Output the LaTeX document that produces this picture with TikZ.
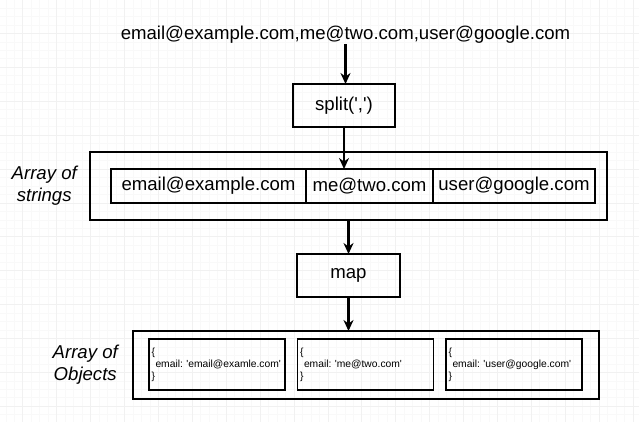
\documentclass[tikz,border=0pt]{standalone}
\usepackage{fontspec}
\setmainfont{Liberation Sans}
\usetikzlibrary{positioning, arrows.meta}

\newcommand{\sq}{\textquotesingle}
\frenchspacing

\tikzset{
  big/.style={font=\fontsize{18.6}{22}\selectfont},
  small/.style={font=\fontsize{10.3}{12}\selectfont},
  box/.style={draw, line width=1.5pt, big, inner sep=0pt, outer sep=0pt, minimum height=43pt},
  holder/.style={draw, line width=1.6pt, minimum height=68pt, outer sep=0pt},
  cell/.style={draw, line width=1.2pt, big, minimum height=34pt, inner sep=0pt, outer sep=0pt},
  objbox/.style={draw, line width=1.5pt, small, minimum width=136pt, minimum height=51pt,
    text width=131pt, inner sep=2.5pt, align=left, outer sep=0pt},
  sidenote/.style={font=\fontsize{18.6}{22}\selectfont\itshape, align=center, inner sep=0pt},
  flow/.style={-{Stealth[length=11pt,width=10pt]}, line width=2.4pt},
  gridminor/.style={draw=black!2.5, line width=0.5pt},
  gridmajor/.style={draw=black!5.5, line width=0.6pt}
}

\begin{document}
\begin{tikzpicture}[x=1pt, y=-1pt]
\useasboundingbox[fill=white] (0,0) rectangle (639,422);
% background grid
\foreach \i in {-2,...,73}
  \draw[gridminor] ({22.7+8.475*\i},0) -- ++(0,422);
\foreach \j in {-3,...,46}
  \draw[gridminor] (0,{33.3+8.475*\j}) -- ++(639,0);
\foreach \i in {0,...,18}
  \draw[gridmajor] ({22.7+33.9*\i},0) -- ++(0,422);
\foreach \j in {0,...,11}
  \draw[gridmajor] (0,{33.3+33.9*\j}) -- ++(639,0);

% input string and split
\node[big, inner sep=0pt] (src) at (345.5,35) {email@example.com,me@two.com,user@google.com};
\node[box, minimum width=102pt] (split) at (344,105.5) {split(\sq,\sq)};

% array of strings
\node[holder, minimum width=517pt] (strings) at (348.5,186) {};
\node[cell, minimum width=195pt] (cell1) at (208.5,186) {email@example.com};
\node[cell, minimum width=127pt, right=0pt of cell1] (cell2) {me@two.com};
\node[cell, minimum width=162pt, right=0pt of cell2] (cell3) {user@google.com};
\node[sidenote, left=13pt of strings] (strlabel) {Array of\\strings};

% map
\node[box, minimum width=103pt] (map) at (348.5,275.5) {map};

% array of objects
\node[objbox] (obj1) at (217,364.5)
    {\{\\\hspace*{4pt}\mbox{email:~\sq email@examle.com\sq}\\\}};
\node[objbox, right=12.5pt of obj1] (obj2)
    {\{\\\hspace*{4pt}\mbox{email:~\sq me@two.com\sq}\\\}};
\node[objbox, right=12.5pt of obj2] (obj3)
    {\{\\\hspace*{4pt}\mbox{email:~\sq user@google.com\sq}\\\}};
\node[holder, minimum width=466pt] (objects) at (366,365) {};
\node[sidenote, left=15pt of objects] (objlabel) {Array of\\Objects};

\draw[flow] (src.south) -- (src.south |- split.north);
\draw[flow] (split.south) -- (split.south |- cell2.north);
\draw[flow] (strings.south) -- (map.north);
\draw[flow] (map.south) -- (map.south |- objects.north);
\end{tikzpicture}
\end{document}
